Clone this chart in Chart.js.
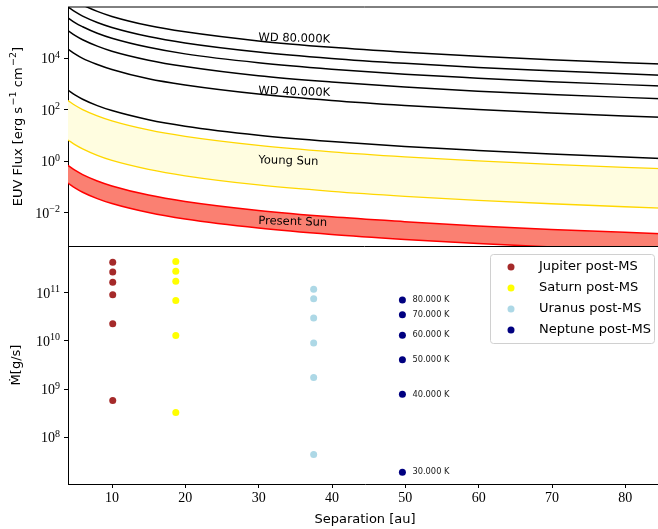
<!DOCTYPE html>
<html>
<head>
<meta charset="utf-8">
<script src="https://cdn.jsdelivr.net/npm/chart.js@4.4.0/dist/chart.umd.min.js"></script>
<style>
  body { margin: 0; background: #fff; }
  #clip { width: 658px; height: 529px; overflow: hidden; }
  #wrap { position: relative; width: 666px; height: 529px; }
  canvas { position: absolute; left: 0; top: 0; }
</style>
</head>
<body>
<div id="clip"><div id="wrap">
  <canvas id="flux" width="661" height="529"></canvas>
  <canvas id="mdot" width="666" height="529"></canvas>
</div></div>
<script>
// --- top panel: EUV flux vs separation ---
const sep = [4, 5, 6, 8, 10, 15, 20, 30, 40, 50, 60, 70, 85];
const wd80 = [2.7e6, 1.73e6, 1.2e6, 6.75e5, 4.3e5, 1.9e5, 1.08e5, 4.8e4, 2.7e4, 1.73e4, 1.2e4, 8.8e3, 6.0e3];
const wd70 = [1.0e6, 6.4e5, 4.4e5, 2.5e5, 1.6e5, 7.1e4, 4.0e4, 1.78e4, 1.0e4, 6.4e3, 4.4e3, 3.3e3, 2.2e3];
const wd60 = [3.8e5, 2.4e5, 1.7e5, 9.5e4, 6.1e4, 2.7e4, 1.5e4, 6.8e3, 3.8e3, 2.4e3, 1.7e3, 1.24e3, 840];
const wd50 = [1.2e5, 7.7e4, 5.3e4, 3.0e4, 1.9e4, 8.5e3, 4.8e3, 2.1e3, 1.2e3, 770, 530, 390, 270];
const wd40 = [2.3e4, 1.47e4, 1.0e4, 5.8e3, 3.7e3, 1.6e3, 920, 410, 230, 147, 102, 75, 51];
const wd30 = [580, 370, 258, 145, 93, 41, 23, 10.3, 5.8, 3.7, 2.6, 1.9, 1.28];
const youngHi = [230, 147, 102, 58, 37, 16.4, 9.2, 4.1, 2.3, 1.47, 1.02, 0.75, 0.51];
const youngLo = [6.7, 4.3, 3.0, 1.68, 1.07, 0.48, 0.27, 0.119, 0.067, 0.043, 0.030, 0.022, 0.0148];
const presentHi = [0.68, 0.435, 0.30, 0.17, 0.109, 0.048, 0.027, 0.0121, 0.0068, 0.0044, 0.0030, 0.0022, 0.0015];
const presentLo = [0.14, 0.09, 0.062, 0.035, 0.0224, 0.01, 0.0056, 0.0025, 0.0014, 9.0e-4, 6.2e-4, 4.6e-4, 3.1e-4];

const fluxLabels = ['WD 80.000K', 'WD 40.000K', 'Young Sun', 'Present Sun'];
const fluxLabelX = [30, 30, 30, 30];
const fluxLabelY = [4.9e4, 410, 0.83, 0.0036];

// --- bottom panel: mass-loss rates ---
const planets = ['Jupiter post-MS', 'Saturn post-MS', 'Uranus post-MS', 'Neptune post-MS'];
const planetSep = [10.1, 18.7, 37.5, 49.6];
const jupiterMdot = [4.3e11, 2.7e11, 1.64e11, 9.1e10, 2.28e10, 5.8e8];
const saturnMdot = [4.46e11, 2.8e11, 1.72e11, 6.9e10, 1.29e10, 3.27e8];
const uranusMdot = [1.18e11, 7.5e10, 3.0e10, 9.1e9, 1.74e9, 4.4e7];
const neptuneMdot = [7.05e10, 3.5e10, 1.31e10, 4.05e9, 7.8e8, 1.9e7];
const wdTemps = ['80.000 K', '70.000 K', '60.000 K', '50.000 K', '40.000 K', '30.000 K'];

const planetColors = ['#a52a2a', '#ffff00', '#add8e6', '#000080'];

const pts = arr => arr.map((v, i) => ({ x: sep[i], y: v }));
const AXW = 68;

// draw 10^n tick labels like the matplotlib math text
const sciTicks = {
  id: 'sciTicks',
  afterDraw(chart) {
    const ctx = chart.ctx;
    const s = chart.scales.y;
    ctx.save();
    ctx.fillStyle = '#000';
    ctx.textBaseline = 'alphabetic';
    s.ticks.forEach(t => {
      const y = s.getPixelForValue(t.value);
      const exp = String(Math.round(Math.log10(t.value))).replace('-', '\u2212');
      const right = s.right - 8;
      ctx.font = '10px "Liberation Serif"';
      const ew = ctx.measureText(exp).width;
      ctx.fillText(exp, right - ew, y - 0.5);
      ctx.font = '14px "Liberation Serif"';
      const bw = ctx.measureText('10').width;
      ctx.fillText('10', right - ew - bw, y + 5);
    });
    ctx.restore();
  }
};

// y title of the flux panel, with real superscripts
const fluxTitle = {
  id: 'fluxTitle',
  afterDraw(chart) {
    const { ctx, chartArea: a } = chart;
    const parts = [['EUV Flux [erg s', 0], ['\u22121', 1], [' cm', 0], ['\u22122', 1], [']', 0]];
    const big = '13px "DejaVu Sans"', small = '9.5px "DejaVu Sans"';
    ctx.save();
    let total = 0;
    parts.forEach(p => { ctx.font = p[1] ? small : big; total += ctx.measureText(p[0]).width + (p[1] ? 1.5 : 0); });
    ctx.translate(22, (a.top + a.bottom) / 2);
    ctx.rotate(-Math.PI / 2);
    ctx.fillStyle = '#000';
    ctx.textBaseline = 'alphabetic';
    let x = -total / 2;
    parts.forEach(p => {
      ctx.font = p[1] ? small : big;
      if (p[1]) x += 1.5;
      ctx.fillText(p[0], x, p[1] ? -6 : 0);
      x += ctx.measureText(p[0]).width;
    });
    ctx.restore();
  }
};

const fluxFrame = {
  id: 'fluxFrame',
  afterDraw(chart) {
    const { ctx, chartArea: a } = chart;
    ctx.save();
    ctx.strokeStyle = '#000';
    ctx.lineWidth = 1;
    ctx.beginPath();
    ctx.moveTo(a.left, a.top); ctx.lineTo(a.right, a.top);
    ctx.moveTo(a.left, a.bottom + 0.5); ctx.lineTo(a.right, a.bottom + 0.5);
    ctx.stroke();
    ctx.restore();
  }
};

const fluxText = {
  id: 'fluxText',
  afterDatasetsDraw(chart) {
    const { ctx } = chart;
    const xs = chart.scales.x, ys = chart.scales.y;
    ctx.save();
    ctx.fillStyle = '#000';
    ctx.font = '11.5px "DejaVu Sans"';
    ctx.textBaseline = 'alphabetic';
    fluxLabels.forEach((t, i) => {
      ctx.save();
      ctx.translate(xs.getPixelForValue(fluxLabelX[i]), ys.getPixelForValue(fluxLabelY[i]));
      ctx.rotate(0.028);
      ctx.fillText(t, 0, 0);
      ctx.restore();
    });
    ctx.restore();
  }
};

const line = (data, color, w) => ({
  data: pts(data), borderColor: color, borderWidth: w, pointRadius: 0,
  cubicInterpolationMode: 'monotone', fill: false
});

const fluxSets = [
  line(wd80, '#000', 1.5), line(wd70, '#000', 1.5), line(wd60, '#000', 1.5),
  line(wd50, '#000', 1.5), line(wd40, '#000', 1.5), line(wd30, '#000', 1.5),
  line(youngHi, '#ffd700', 1.3),
  Object.assign(line(youngLo, '#ffd700', 1.3), { fill: '-1', backgroundColor: '#fffde0' }),
  line(presentHi, '#ff0000', 1.5),
  Object.assign(line(presentLo, '#ff0000', 1.5), { fill: '-1', backgroundColor: '#fa8072' })
];

new Chart(document.getElementById('flux'), {
  type: 'line',
  data: { datasets: fluxSets },
  options: {
    responsive: false, animation: false, devicePixelRatio: 1,
    layout: { padding: { top: 7, bottom: 529 - 246, left: 0, right: 0 } },
    plugins: { legend: { display: false }, tooltip: { enabled: false } },
    scales: {
      x: { type: 'linear', min: 4, max: 85, display: false },
      y: {
        type: 'logarithmic', min: 5e-4, max: 1e6,
        afterFit: s => { s.width = AXW; },
        afterBuildTicks: s => { s.ticks = [1e-2, 1, 1e2, 1e4].map(v => ({ value: v })); },
        ticks: { display: false },
        grid: { drawOnChartArea: false, tickLength: 4, color: '#000', tickWidth: 1 },
        border: { display: true, color: '#000', width: 1 }
      }
    }
  },
  plugins: [sciTicks, fluxFrame, fluxText, fluxTitle]
});

const mdotData = [jupiterMdot, saturnMdot, uranusMdot, neptuneMdot];
const mdotSets = mdotData.map((arr, k) => ({
  label: planets[k],
  data: arr.map(v => ({ x: planetSep[k], y: v })),
  backgroundColor: planetColors[k], borderWidth: 0, pointRadius: 3.5
}));

const tempText = {
  id: 'tempText',
  afterDatasetsDraw(chart) {
    const { ctx } = chart;
    const meta = chart.getDatasetMeta(3);
    ctx.save();
    ctx.fillStyle = '#222';
    ctx.font = '8.3px "DejaVu Sans"';
    ctx.textBaseline = 'middle';
    meta.data.forEach((p, i) => ctx.fillText(wdTemps[i], p.x + 10, p.y));
    ctx.restore();
  }
};

const legendBox = {
  id: 'legendBox',
  afterDraw(chart) {
    const { ctx, chartArea: a } = chart;
    const x0 = a.right - 172, y0 = a.top + 8, w = 164, h = 89;
    ctx.save();
    ctx.beginPath();
    ctx.roundRect(x0 + 0.5, y0 + 0.5, w, h, 3);
    ctx.fillStyle = 'rgba(255,255,255,0.8)';
    ctx.fill();
    ctx.strokeStyle = '#d0d0d0';
    ctx.lineWidth = 1;
    ctx.stroke();
    ctx.font = '13px "DejaVu Sans"';
    ctx.textBaseline = 'middle';
    chart.data.datasets.forEach((d, i) => {
      const yy = y0 + 13 + i * 21;
      ctx.beginPath();
      ctx.arc(x0 + 21, yy, 3.5, 0, Math.PI * 2);
      ctx.fillStyle = d.backgroundColor;
      ctx.fill();
      ctx.fillStyle = '#000';
      ctx.fillText(d.label, x0 + 49, yy);
    });
    ctx.restore();
  }
};

new Chart(document.getElementById('mdot'), {
  type: 'scatter',
  data: { datasets: mdotSets },
  options: {
    responsive: false, animation: false, devicePixelRatio: 1,
    layout: { padding: { top: 246, bottom: 0, left: 0, right: 0 } },
    plugins: { legend: { display: false }, tooltip: { enabled: false } },
    scales: {
      x: {
        type: 'linear', min: 4, max: 85,
        afterFit: s => { s.height = 45; },
        afterBuildTicks: s => { s.ticks = [10, 20, 30, 40, 50, 60, 70, 80].map(v => ({ value: v })); },
        ticks: { color: '#000', font: { family: 'Liberation Serif', size: 14 }, padding: 2, maxRotation: 0 },
        grid: { drawOnChartArea: false, tickLength: 4, color: '#000' },
        border: { display: true, color: '#000', width: 1 },
        title: {
          display: true, text: 'Separation [au]', color: '#000',
          font: { family: 'DejaVu Sans', size: 13 }, padding: { top: 0, bottom: 1.2 }
        }
      },
      y: {
        type: 'logarithmic', min: 1.08e7, max: 9.3e11,
        afterFit: s => { s.width = AXW; },
        afterBuildTicks: s => { s.ticks = [1e8, 1e9, 1e10, 1e11].map(v => ({ value: v })); },
        ticks: { display: false },
        grid: { drawOnChartArea: false, tickLength: 4, color: '#000' },
        border: { display: true, color: '#000', width: 1 },
        title: {
          display: true, text: '\u1E40[g/s]', color: '#000',
          font: { family: 'DejaVu Sans', size: 13 }, padding: { top: 9, bottom: 0 }
        }
      }
    }
  },
  plugins: [sciTicks, tempText, legendBox]
});
</script>
</body>
</html>
